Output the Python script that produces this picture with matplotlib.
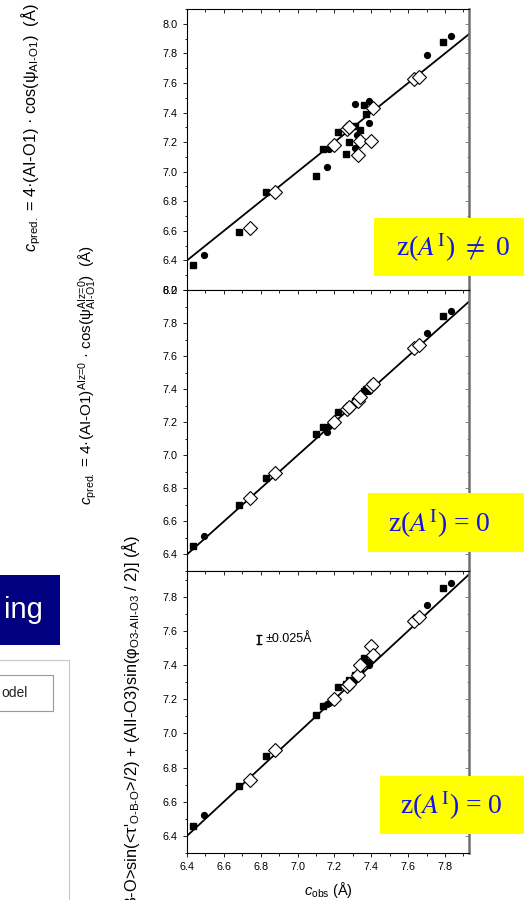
import matplotlib
matplotlib.use("Agg")
import matplotlib.pyplot as plt
from matplotlib.patches import Rectangle
from matplotlib.ticker import MultipleLocator, FormatStrFormatter

plt.rcParams['font.family'] = ['Liberation Sans', 'DejaVu Sans']
plt.rcParams['mathtext.fontset'] = 'custom'
plt.rcParams['mathtext.rm'] = 'Liberation Sans'
plt.rcParams['mathtext.it'] = 'Liberation Sans:italic'
plt.rcParams['mathtext.bf'] = 'Liberation Sans:bold'

# ---------------- data ----------------
# filled squares
sq_obs = [6.43, 6.68, 6.83, 7.10, 7.14, 7.22, 7.26, 7.28, 7.31, 7.34, 7.36, 7.37, 7.79]
sq_pred1 = [6.37, 6.59, 6.86, 6.97, 7.15, 7.27, 7.12, 7.20, 7.31, 7.28, 7.45, 7.39, 7.88]
sq_pred2 = [6.45, 6.70, 6.86, 7.13, 7.17, 7.26, 7.28, 7.30, 7.33, 7.36, 7.39, 7.40, 7.84]
sq_pred3 = [6.46, 6.69, 6.87, 7.11, 7.16, 7.27, 7.29, 7.31, 7.34, 7.37, 7.44, 7.42, 7.85]
# filled circles
ci_obs = [6.49, 7.16, 7.17, 7.31, 7.31, 7.32, 7.39, 7.39, 7.70, 7.83]
ci_pred1 = [6.44, 7.03, 7.15, 7.46, 7.16, 7.25, 7.48, 7.33, 7.79, 7.92]
ci_pred2 = [6.51, 7.14, 7.18, 7.32, 7.31, 7.33, 7.39, 7.40, 7.74, 7.87]
ci_pred3 = [6.52, 7.17, 7.18, 7.32, 7.31, 7.33, 7.41, 7.40, 7.75, 7.88]
# open diamonds
di_obs = [6.74, 6.88, 7.20, 7.27, 7.28, 7.33, 7.34, 7.40, 7.41, 7.63, 7.66]
di_pred1 = [6.62, 6.86, 7.18, 7.29, 7.30, 7.11, 7.21, 7.21, 7.43, 7.63, 7.64]
di_pred2 = [6.74, 6.89, 7.20, 7.28, 7.29, 7.33, 7.35, 7.42, 7.43, 7.65, 7.67]
di_pred3 = [6.73, 6.90, 7.20, 7.28, 7.29, 7.34, 7.40, 7.51, 7.46, 7.66, 7.68]
# y = x reference line
fit_x = [6.4, 7.95]
fit_y = [6.4, 7.95]
# error bar sample
err_x, err_y, err_val = 6.79, 7.55, 0.025
err_label = "±0.025Å"

x_ticks = [6.4, 6.6, 6.8, 7.0, 7.2, 7.4, 7.6, 7.8]
ylims = [(6.2, 8.1), (6.3, 8.0), (6.3, 7.95)]
y_ticks = [[6.2, 6.4, 6.6, 6.8, 7.0, 7.2, 7.4, 7.6, 7.8, 8.0],
           [6.4, 6.6, 6.8, 7.0, 7.2, 7.4, 7.6, 7.8, 8.0],
           [6.4, 6.6, 6.8, 7.0, 7.2, 7.4, 7.6, 7.8]]
box_texts = [r'z($A^{\rm I}$) $\neq$ 0', r'z($A^{\rm I}$) = 0', r'z($A^{\rm I}$) = 0']

ylabel1 = r'$c_{\rm pred.}$ = 4·(AI-O1) · cos(ψ$_{\text{AI-O1}}$)  (Å)'
ylabel2 = r'$c_{\rm pred.}$ = 4·(AI-O1)$^{\text{AIz=0}}$ · cos(ψ$_{\text{AI-O1}}^{\text{AIz=0}}$)  (Å)'
ylabel3 = (r"$c_{\rm pred.}$ = 4·[<B-O>sin(<τ$'_{\text{O-B-O}}$>/2) + "
           r"(AII-O3)sin(φ$_{\text{O3-AII-O3}}$ / 2)] (Å)")
xlabel = r'$c_{\rm obs}$ (Å)'

# ---------------- figure ----------------
W, H = 524, 900
fig = plt.figure(figsize=(W / 100, H / 100), dpi=100)


def fx(px):
    return px / W


def fy(py):
    return 1 - py / H


# slide fragments on the left
fig.patches.append(Rectangle((fx(0), fy(645)), fx(60), 70 / H, transform=fig.transFigure,
                             facecolor='#000080', edgecolor='none', zorder=0))
fig.text(fx(43), fy(610), 'ing', color='white', fontsize=21, ha='right', va='center')
fig.patches.append(Rectangle((fx(-2), fy(905)), fx(71), 245 / H, transform=fig.transFigure,
                             facecolor='white', edgecolor='#c8c8c8', lw=0.8, zorder=0))
fig.patches.append(Rectangle((fx(-2), fy(711)), fx(55), 36 / H, transform=fig.transFigure,
                             facecolor='white', edgecolor='#999999', lw=0.8, zorder=0))
fig.text(fx(28), fy(693), 'odel', color='#222222', fontsize=10, ha='right', va='center')

# axes
panels = [(9, 290), (290, 571), (571, 853)]
left_px, right_px = 187, 469
preds = [(sq_pred1, ci_pred1, di_pred1), (sq_pred2, ci_pred2, di_pred2),
         (sq_pred3, ci_pred3, di_pred3)]
axes = []
for i, (top, bot) in enumerate(panels):
    ax = fig.add_axes([fx(left_px), fy(bot), fx(right_px - left_px), (bot - top) / H])
    axes.append(ax)
    sp, cp, dp = preds[i]
    ax.plot(fit_x, fit_y, color='black', lw=1.3, zorder=2)
    ax.plot(sq_obs, sp, 's', color='black', ms=3.8, zorder=3)
    ax.plot(ci_obs, cp, 'o', color='black', ms=4.2, zorder=3)
    ax.plot(di_obs, dp, 'D', mfc='white', mec='black', mew=0.8, ms=7.4, zorder=4)
    ax.set_xlim(6.4, 7.93)
    ax.set_ylim(*ylims[i])
    ax.set_xticks(x_ticks)
    ax.set_yticks(y_ticks[i])
    ax.xaxis.set_minor_locator(MultipleLocator(0.1))
    ax.yaxis.set_minor_locator(MultipleLocator(0.1))
    ax.tick_params(which='both', direction='out', labelsize=7.8, width=0.6)
    ax.tick_params(which='major', length=3)
    ax.tick_params(which='minor', length=1.8)
    ax.yaxis.set_major_formatter(FormatStrFormatter('%.1f'))
    ax.xaxis.set_major_formatter(FormatStrFormatter('%.1f'))
    if i < 2:
        ax.tick_params(axis='x', labelbottom=False)
    for s in ['left', 'bottom', 'top']:
        ax.spines[s].set_linewidth(0.8)
    ax.spines['right'].set_color('#707070')
    ax.spines['right'].set_linewidth(1.8)
    # inward ticks on top and right
    sx = ax.secondary_xaxis('top')
    sx.set_xticks(x_ticks)
    sx.xaxis.set_minor_locator(MultipleLocator(0.1))
    sx.tick_params(which='both', direction='in', labeltop=False, width=0.6)
    sx.tick_params(which='major', length=3)
    sx.tick_params(which='minor', length=1.8)
    sy = ax.secondary_yaxis('right')
    sy.set_yticks(y_ticks[i])
    sy.yaxis.set_minor_locator(MultipleLocator(0.1))
    sy.tick_params(which='both', direction='in', labelright=False, width=0.6, color='#707070')
    sy.tick_params(which='major', length=3)
    sy.tick_params(which='minor', length=1.8)
    sy.spines['right'].set_visible(False)
    sx.spines['top'].set_visible(False)

# error bar sample in panel 3
axes[2].errorbar([err_x], [err_y], yerr=[err_val], fmt='none', ecolor='black',
                 elinewidth=1.2, capsize=2.2, capthick=1.0, zorder=5)
axes[2].text(err_x + 0.035, err_y, err_label, fontsize=9, va='center', ha='left')

# yellow boxes with labels
boxes = [(374, 218, 524, 276), (368, 493, 524, 552), (380, 776, 524, 834)]
text_x = [396, 388, 400]
for (x0, y0, x1, y1), t, tx in zip(boxes, box_texts, text_x):
    fig.patches.append(Rectangle((fx(x0), fy(y1)), fx(x1 - x0), (y1 - y0) / H,
                                 transform=fig.transFigure, facecolor='#ffff00',
                                 edgecolor='none', zorder=10))
    fig.text(fx(tx), fy((y0 + y1) / 2 + 1), t, fontsize=20, color='#1515e6',
             family='Liberation Serif', math_fontfamily='stix', ha='left', va='center',
             zorder=11)

# axis labels
fig.text(fx(31), fy(252), ylabel1, rotation=90, fontsize=11.8, ha='center', va='bottom')
fig.text(fx(88), fy(505), ylabel2, rotation=90, fontsize=11, ha='center', va='bottom')
fig.text(fx(132), fy(535), ylabel3, rotation=90, fontsize=11.8, ha='center', va='top')
fig.text(fx(328), fy(890), xlabel, fontsize=10.5, ha='center', va='center')

fig.savefig('out.png', dpi=100)
